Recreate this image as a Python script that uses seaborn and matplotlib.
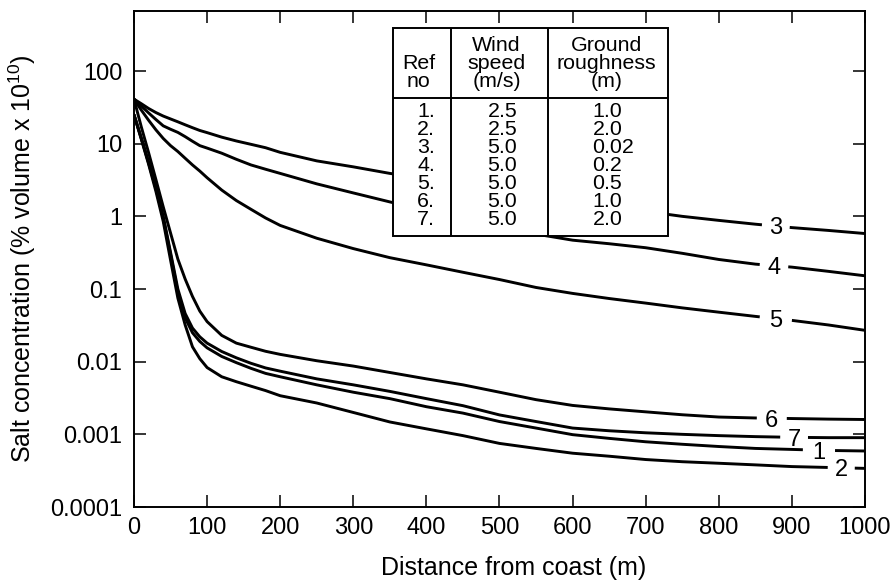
import numpy as np
import pandas as pd
import matplotlib
matplotlib.use("Agg")
import matplotlib.pyplot as plt
import seaborn as sns

# ---------------- data ----------------
distance = [0, 10, 20, 30, 40, 50, 60, 70, 80, 90, 100, 120, 140, 160, 180, 200,
            250, 300, 350, 400, 450, 500, 550, 600, 650, 700, 750, 800, 850, 900, 950, 1000]

conc_1 = [25, 11.8, 5.4, 2.4, 0.95, 0.3, 0.09, 0.04, 0.025, 0.019, 0.0155, 0.0118, 0.0097,
          0.0081, 0.0069, 0.0062, 0.0048, 0.0038, 0.0031, 0.0024, 0.00196, 0.0015, 0.00122,
          0.00099, 0.00088, 0.00079, 0.00073, 0.00068, 0.00064, 0.00062, 0.0006, 0.00059]
conc_2 = [25, 11.5, 5.2, 2.2, 0.85, 0.25, 0.075, 0.032, 0.016, 0.011, 0.0083, 0.0062, 0.0053,
          0.0046, 0.004, 0.0034, 0.0027, 0.002, 0.00148, 0.00119, 0.00096, 0.00075, 0.00064,
          0.00055, 0.0005, 0.00045, 0.00042, 0.0004, 0.00038, 0.00036, 0.00035, 0.00034]
conc_3 = [41, 35.5, 30.5, 26.8, 24, 21.9, 20, 18.2, 16.6, 15.2, 14.2, 12.3, 10.9, 9.8, 8.8, 7.6,
          5.8, 4.8, 3.9, 3.3, 2.8, 2.35, 1.95, 1.65, 1.38, 1.17, 1.0, 0.88, 0.78, 0.70, 0.64, 0.58]
conc_4 = [41, 33, 26.5, 21.5, 17.6, 15.8, 14.3, 12.5, 10.8, 9.4, 8.7, 7.4, 6.1, 5.1, 4.45, 3.9,
          2.8, 2.1, 1.58, 1.2, 0.93, 0.73, 0.57, 0.47, 0.42, 0.37, 0.31, 0.255, 0.22, 0.20, 0.175, 0.152]
conc_5 = [41, 29, 21, 15.5, 11.8, 9.4, 7.8, 6.3, 5.1, 4.2, 3.4, 2.3, 1.65, 1.25, 0.95, 0.75,
          0.5, 0.36, 0.27, 0.215, 0.17, 0.135, 0.105, 0.087, 0.074, 0.064, 0.055, 0.048, 0.042,
          0.037, 0.032, 0.027]
conc_6 = [41, 17, 7.5, 3.2, 1.35, 0.59, 0.258, 0.137, 0.079, 0.0497, 0.0356, 0.023, 0.018,
          0.0158, 0.0139, 0.0126, 0.0103, 0.0087, 0.0071, 0.0058, 0.0048, 0.0038, 0.003, 0.0025,
          0.00224, 0.00204, 0.00186, 0.00173, 0.00168, 0.00165, 0.00162, 0.0016]
conc_7 = [25, 12, 5.6, 2.5, 1.0, 0.32, 0.1, 0.046, 0.029, 0.022, 0.018, 0.0138, 0.0113, 0.0095,
          0.0082, 0.0074, 0.0058, 0.0048, 0.0039, 0.0031, 0.00248, 0.00185, 0.0015, 0.00122,
          0.00112, 0.00105, 0.001, 0.00096, 0.00093, 0.00091, 0.0009, 0.0009]

curve_ids = ["1", "2", "3", "4", "5", "6", "7"]
curves = [conc_1, conc_2, conc_3, conc_4, conc_5, conc_6, conc_7]

# table contents
ref_no = ["1.", "2.", "3.", "4.", "5.", "6.", "7."]
wind_speed = ["2.5", "2.5", "5.0", "5.0", "5.0", "5.0", "5.0"]
roughness = ["1.0", "2.0", "0.02", "0.2", "0.5", "1.0", "2.0"]

x_ticks = [0, 100, 200, 300, 400, 500, 600, 700, 800, 900, 1000]
y_ticks = [0.0001, 0.001, 0.01, 0.1, 1, 10, 100]
y_tick_labels = ["0.0001", "0.001", "0.01", "0.1", "1", "10", "100"]

# curve-label gaps (distance range) per curve
label_gaps = {"3": (859, 897), "4": (856, 895), "5": (856, 900), "6": (852, 893),
              "7": (884, 922), "1": (915, 959), "2": (949, 986)}

# ---------------- style ----------------
sns.set_style("ticks")
plt.rcParams["font.family"] = ["Liberation Sans", "DejaVu Sans"]
plt.rcParams["mathtext.fontset"] = "custom"
plt.rcParams["mathtext.rm"] = "Liberation Sans"
plt.rcParams["mathtext.it"] = "Liberation Sans:italic"
for k in ("text.color", "axes.labelcolor", "xtick.color", "ytick.color", "axes.edgecolor"):
    plt.rcParams[k] = "black"

W, H = 895, 586
fig = plt.figure(figsize=(W / 100, H / 100), dpi=100)
AX_L, AX_R, AX_T, AX_B = 134, 865, 11, 507
ax = fig.add_axes([AX_L / W, (H - AX_B) / H, (AX_R - AX_L) / W, (AX_B - AX_T) / H])

df = pd.concat([pd.DataFrame({"distance": distance, "conc": c, "ref": cid})
                for cid, c in zip(curve_ids, curves)], ignore_index=True)

sns.lineplot(data=df, x="distance", y="conc", hue="ref", hue_order=curve_ids,
             palette=["black"] * 7, estimator=None, sort=False, legend=False,
             linewidth=2.1, ax=ax, zorder=2)

ax.set_yscale("log")
ax.set_xlim(0, 1000)
ax.set_ylim(1e-4, 670)
ax.set_xticks(x_ticks)
ax.set_xticklabels([str(t) for t in x_ticks])
ax.set_yticks(y_ticks)
ax.set_yticklabels(y_tick_labels)
ax.minorticks_off()
ax.tick_params(direction="in", length=8.6, width=1.1, top=True, right=True,
               labelsize=17, colors="black")
ax.tick_params(axis="x", pad=7)
ax.tick_params(axis="y", pad=8.5)
for s in ax.spines.values():
    s.set_linewidth(1.4)
    s.set_color("black")


def fx(px):
    return (px - AX_L) / (AX_R - AX_L)


def fy(py):
    return (AX_B - py) / (AX_B - AX_T)


ax.set_xlabel("Distance from coast (m)", fontsize=18, color="black")
ax.set_ylabel("Salt concentration (% volume x 10$^{\\mathrm{10}}$)", fontsize=18, color="black")
ax.xaxis.set_label_coords(fx(514), fy(556))
ax.yaxis.set_label_coords(fx(38), 0.5)

# curve labels with gaps
logx = np.array(distance, dtype=float)
for cid, c in zip(curve_ids, curves):
    xa, xb = label_gaps[cid]
    xs = np.linspace(xa, xb, 30)
    ys = 10 ** np.interp(xs, logx, np.log10(c))
    ax.plot(xs, ys, color="white", lw=4.5, solid_capstyle="butt", zorder=3)
    xc = (xa + xb) / 2
    yc = 10 ** np.interp(xc, logx, np.log10(c))
    ax.annotate(cid, (xc, yc), xytext=(0, -6), textcoords="offset points",
                ha="center", va="baseline", fontsize=17, color="black", zorder=4)

# table
tl, tr, tt, tb = 393.3, 668.3, 28.3, 236
rect = plt.Rectangle((fx(tl), fy(tb)), fx(tr) - fx(tl), fy(tt) - fy(tb), transform=ax.transAxes,
                     facecolor="white", edgecolor="black", lw=1.4, zorder=5)
ax.add_patch(rect)
for cx in (451, 548):
    ax.plot([fx(cx), fx(cx)], [fy(tt), fy(tb)], transform=ax.transAxes, color="black",
            lw=1.4, zorder=6, solid_capstyle="butt")
ax.plot([fx(tl), fx(tr)], [fy(97.7), fy(97.7)], transform=ax.transAxes, color="black",
        lw=1.4, zorder=6, solid_capstyle="butt")

TFS = 15.4
hdr_base = [50.7, 69.3, 86.7]
headers = [(418.5, ["", "Ref", "no"]), (496.5, ["Wind", "speed", "(m/s)"]),
           (606.7, ["Ground", "roughness", "(m)"])]
for cx, lines in headers:
    for ln, by in zip(lines, hdr_base):
        if ln:
            ax.text(fx(cx), fy(by), ln, transform=ax.transAxes, ha="center", va="baseline",
                    fontsize=TFS, color="black", zorder=7)
for i in range(len(ref_no)):
    by = 117.3 + 17.95 * i
    ax.text(fx(426), fy(by), ref_no[i], transform=ax.transAxes, ha="center", va="baseline",
            fontsize=TFS, color="black", zorder=7)
    ax.text(fx(502.5), fy(by), wind_speed[i], transform=ax.transAxes, ha="center",
            va="baseline", fontsize=TFS, color="black", zorder=7)
    ax.text(fx(592.5), fy(by), roughness[i], transform=ax.transAxes, ha="left",
            va="baseline", fontsize=TFS, color="black", zorder=7)

fig.savefig("out.png", dpi=100, facecolor="white")
